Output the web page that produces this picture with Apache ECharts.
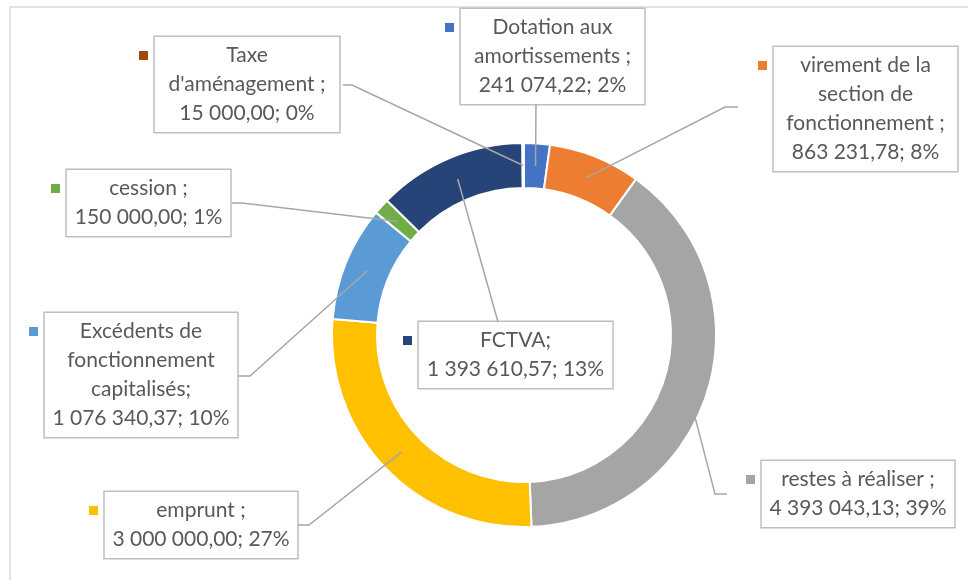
<!DOCTYPE html>
<html><head><meta charset="utf-8">
<script src="https://cdn.jsdelivr.net/npm/echarts@6/dist/echarts.min.js"></script>
<style>html,body{margin:0;padding:0;background:#fff}#c{width:968px;height:580px}</style>
</head><body><div id="c"></div>
<script>
// ---- data ----
const categories = ['Dotation aux amortissements', 'virement de la section de fonctionnement', 'restes à réaliser', 'emprunt', 'Excédents de fonctionnement capitalisés', 'cession', 'FCTVA', "Taxe d'aménagement"];
const labelNames = ['Dotation aux\namortissements ;', 'virement de la\nsection de\nfonctionnement ;', 'restes à réaliser ;', 'emprunt ;', 'Excédents de\nfonctionnement\ncapitalisés;', 'cession ;', 'FCTVA;', "Taxe\nd'aménagement ;"];
const values = [241074.22, 863231.78, 4393043.13, 3000000.00, 1076340.37, 150000.00, 1393610.57, 15000.00];
const colors = ['#4472C4', '#ED7D31', '#A5A5A5', '#FFC000', '#5B9BD5', '#70AD47', '#264478', '#9E480E'];

// ---- layout ----
const CX = 524, CY = 335, R0 = 147, R1 = 192;
const PADX = 6, BW = 1.5;
const boxes = [[460, 9, 185, 95], [773, 47, 185, 124], [761, 461, 194, 66], [104, 492, 194, 66], [44, 313, 194, 125], [66, 170, 165, 66], [418, 322, 195, 67], [154, 37, 186, 96]];
const bends = [[[536, 104], [536, 104]], [[725, 107], [738, 107]], [[715, 494], [727, 494]], [[309, 525], [298, 525]], [[250, 376], [238, 376]], [[242, 203], [232, 203]], [[498, 322], [498, 322]], [[352, 85], [343, 85]]];

const total = values.reduce((a, b) => a + b, 0);
function fmt(v) {
  const parts = v.toFixed(2).split('.');
  return parts[0].replace(/\B(?=(\d{3})+(?!\d))/g, ' ') + ',' + parts[1];
}
function anchor(i) {
  let cum = 0;
  for (let k = 0; k < i; k++) cum += values[k];
  const frac = (cum + values[i] / 2) / total;
  const th = frac * 2 * Math.PI, rm = (R0 + R1) / 2;
  return [CX + rm * Math.sin(th), CY - rm * Math.cos(th)];
}

const chart = echarts.init(document.getElementById('c'));
chart.setOption({
  animation: false,
  graphic: [{
    type: 'rect', silent: true, z: -10,
    shape: { x: 10, y: 7, width: 1100, height: 700 },
    style: { fill: 'none', stroke: '#d9d9d9', lineWidth: 1.5 }
  }],
  series: [{
    type: 'pie', center: [CX, CY], radius: [R0, R1], startAngle: 90, clockwise: true,
    avoidLabelOverlap: false, silent: true, z: 2,
    itemStyle: { borderColor: '#ffffff', borderWidth: 2 },
    data: categories.map((n, i) => ({
      name: n, value: values[i], itemStyle: { color: colors[i] },
      label: { width: boxes[i][2] - 2 * PADX - BW }
    })),
    label: {
      show: true, position: 'outside',
      formatter: p => labelNames[p.dataIndex] + '\n' + fmt(values[p.dataIndex]) + '; ' + Math.round(values[p.dataIndex] / total * 100) + '%',
      fontFamily: 'Lato', fontSize: 21, lineHeight: 29, color: '#595959', align: 'center',
      borderColor: '#bfbfbf', borderWidth: BW, padding: [4, PADX], backgroundColor: '#ffffff'
    },
    labelLine: { show: false },
    labelLayout: p => {
      const b = boxes[p.dataIndex];
      return { x: b[0] + b[2] / 2, y: b[1], align: 'center', verticalAlign: 'top' };
    }
  }, {
    type: 'pie', center: [CX, CY], radius: [R0, R1], startAngle: 90, clockwise: true,
    avoidLabelOverlap: false, silent: true, z: 3,
    itemStyle: { color: 'rgba(0,0,0,0)', borderWidth: 0 },
    data: categories.map((n, i) => ({
      name: n, value: values[i],
      label: { backgroundColor: colors[i] }
    })),
    label: {
      show: true, position: 'outside', formatter: ' ', fontSize: 1, lineHeight: 9,
      width: 9, height: 9, padding: 0
    },
    labelLine: { show: true, smooth: false, lineStyle: { color: '#a6a6a6', width: 1.5 } },
    labelLayout: p => {
      const b = boxes[p.dataIndex];
      return {
        x: b[0] - 15, y: b[1] + 14, align: 'left', verticalAlign: 'top',
        labelLinePoints: [anchor(p.dataIndex)].concat(bends[p.dataIndex])
      };
    }
  }]
});
</script>
</body></html>
